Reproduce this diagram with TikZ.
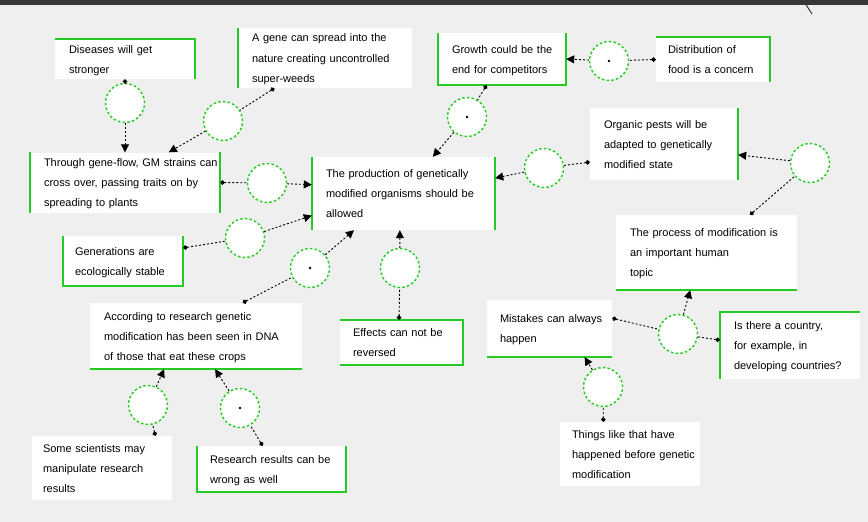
\documentclass[tikz,border=0pt]{standalone}
\usepackage{fontspec}
\setmainfont{Liberation Sans}
\usetikzlibrary{arrows.meta,calc}
\definecolor{gr}{RGB}{34,204,34}
\definecolor{bg}{RGB}{239,239,239}
\definecolor{topbar}{RGB}{55,55,55}
\tikzset{
 box/.style={fill=white, inner sep=0pt, align=left, font=\fontsize{11}{20}\selectfont},
 gside/.style={draw=gr, line width=2pt},
 circ/.style={circle, draw=gr, fill=white, line width=1.4pt, dash pattern=on 2.5pt off 2.2pt, minimum size=39pt, inner sep=0pt},
 conn/.style={black, line width=0.9pt, dash pattern=on 2pt off 2pt},
 src/.style={conn, {Circle[length=4.5pt]}-},
 tgt/.style={conn, -{Triangle[length=8pt,width=8pt]}},
 dotc/.style={fill=black}
}
\begin{document}
\begin{tikzpicture}[x=1pt,y=-1pt]
\fill[bg] (0,0) rectangle (868,522);
\useasboundingbox (0,0) rectangle (868,522);
\fill[topbar] (0,0) rectangle (868,5);
\draw[topbar, line width=1pt] (803,0) -- (812,14);

% boxes
\node[box, minimum width=140pt, minimum height=38pt, text width=112pt] (b1) at (125,59)
 {\begin{tabular}{@{}l@{}}Diseases will get\\stronger\end{tabular}};
\node[box, minimum width=174pt, minimum height=60pt, text width=146pt] (b2) at (325,58)
 {\begin{tabular}{@{}l@{}}A gene can spread into the\\nature creating uncontrolled\\super-weeds\end{tabular}};
\node[box, minimum width=128pt, minimum height=52pt, text width=100pt] (b3) at (502,59)
 {\begin{tabular}{@{}l@{}}Growth could be the\\end for competitors\end{tabular}};
\node[box, minimum width=114pt, minimum height=45pt, text width=90pt] (b4) at (713,59.5)
 {\begin{tabular}{@{}l@{}}Distribution of\\food is a concern\end{tabular}};
\node[box, minimum width=190pt, minimum height=59pt, text width=162pt] (b5) at (125,182.5)
 {\begin{tabular}{@{}l@{}}Through gene-flow, GM strains can\\cross over, passing traits on by\\spreading to plants\end{tabular}};
\node[box, minimum width=183pt, minimum height=73pt, text width=155pt] (b6) at (403.5,193.5)
 {\begin{tabular}{@{}l@{}}The production of genetically\\modified organisms should be\\allowed\end{tabular}};
\node[box, minimum width=148pt, minimum height=72pt, text width=120pt] (b7) at (664,144)
 {\begin{tabular}{@{}l@{}}Organic pests will be\\adapted to genetically\\modified state\end{tabular}};
\node[box, minimum width=181pt, minimum height=75pt, text width=153pt] (b8) at (706.5,252.5)
 {\begin{tabular}{@{}l@{}}The process of modification is\\an important human\\topic\end{tabular}};
\node[box, minimum width=120pt, minimum height=50pt, text width=96pt] (b9) at (123,261)
 {\begin{tabular}{@{}l@{}}Generations are\\ecologically stable\end{tabular}};
\node[box, minimum width=212pt, minimum height=66pt, text width=184pt] (b10) at (196,336)
 {\begin{tabular}{@{}l@{}}According to research genetic\\modification has been seen in DNA\\of those that eat these crops\end{tabular}};
\node[box, minimum width=123pt, minimum height=45pt, text width=97pt] (b11) at (401.5,342.5)
 {\begin{tabular}{@{}l@{}}Effects can not be\\reversed\end{tabular}};
\node[box, minimum width=125pt, minimum height=57pt, text width=99pt] (b12) at (549.5,328.5)
 {\begin{tabular}{@{}l@{}}Mistakes can always\\happen\end{tabular}};
\node[box, minimum width=140pt, minimum height=67pt, text width=112pt] (b13) at (790,345.5)
 {\begin{tabular}{@{}l@{}}Is there a country,\\for example, in\\developing countries?\end{tabular}};
\node[box, minimum width=140pt, minimum height=64pt, text width=118pt] (b14) at (102,468)
 {\begin{tabular}{@{}l@{}}Some scientists may\\manipulate research\\results\end{tabular}};
\node[box, minimum width=149pt, minimum height=46pt, text width=123pt] (b15) at (271.5,469)
 {\begin{tabular}{@{}l@{}}Research results can be\\wrong as well\end{tabular}};
\node[box, minimum width=140pt, minimum height=64pt, text width=116pt] (b16) at (630,454)
 {\begin{tabular}{@{}l@{}}Things like that have\\happened before genetic\\modification\end{tabular}};

% green sides
\draw[gside] (b1.north west) -- (b1.north east) -- (b1.south east);
\draw[gside] (b2.north west) -- (b2.south west);
\draw[gside] (b3.north west) -- (b3.south west) -- (b3.south east) -- (b3.north east);
\draw[gside] (b4.north west) -- (b4.north east) -- (b4.south east);
\draw[gside] (b5.north west) -- (b5.south west);
\draw[gside] (b5.north east) -- (b5.south east);
\draw[gside] (b6.north west) -- (b6.south west);
\draw[gside] (b6.north east) -- (b6.south east);
\draw[gside] (b7.north east) -- (b7.south east);
\draw[gside] (b8.south west) -- (b8.south east);
\draw[gside] (b9.north west) -- (b9.south west) -- (b9.south east) -- (b9.north east);
\draw[gside] (b10.south west) -- (b10.south east);
\draw[gside] (b11.north west) -- (b11.north east) -- (b11.south east) -- (b11.south west);
\draw[gside] (b12.south west) -- (b12.south east);
\draw[gside] (b13.south west) -- (b13.north west) -- (b13.north east);
\draw[gside] (b15.north west) -- (b15.south west) -- (b15.south east) -- (b15.north east);

% circles
\node[circ] (c1) at (125,103) {};
\node[circ] (c2) at (223,121) {};
\node[circ] (c3) at (467,117) {};
\node[circ] (c4) at (609,61) {};
\node[circ] (c5) at (267,183) {};
\node[circ] (c6) at (544,168) {};
\node[circ] (c7) at (810,163) {};
\node[circ] (c8) at (678,334) {};
\node[circ] (c9) at (603,387) {};
\node[circ] (c10) at (245,238) {};
\node[circ] (c11) at (310,268) {};
\node[circ] (c12) at (400,268) {};
\node[circ] (c13) at (148,405) {};
\node[circ] (c14) at (240,408) {};
\foreach \c in {c3,c4,c11,c14} \fill[dotc] (\c) circle (1.4pt);

% connectors
\draw[src] (b1.south) -- (c1);
\draw[tgt] (c1) -- (b5.north);
\draw[src] ($(b2.south west)!0.21!(b2.south east)$) -- (c2);
\draw[tgt] (c2) -- ($(b5.north west)!0.73!(b5.north east)$);
\draw[src] ($(b3.south west)!0.38!(b3.south east)$) -- (c3);
\draw[tgt] (c3) -- ($(b6.north west)!0.66!(b6.north east)$);
\draw[src] (b4.west) -- (c4);
\draw[tgt] (c4) -- (b3.east);
\draw[src] (b5.east) -- (c5);
\draw[tgt] (c5) -- ($(b6.north west)!0.38!(b6.south west)$);
\draw[src] ($(b7.north west)!0.75!(b7.south west)$) -- (c6);
\draw[tgt] (c6) -- ($(b6.north east)!0.29!(b6.south east)$);
\draw[src] ($(b8.north west)!0.74!(b8.north east)$) -- (c7);
\draw[tgt] (c7) -- ($(b7.north east)!0.65!(b7.south east)$);
\draw[src] ($(b13.north west)!0.42!(b13.south west)$) -- (c8);
\draw[src] ($(b12.north east)!0.32!(b12.south east)$) -- (c8);
\draw[tgt] (c8) -- ($(b8.south west)!0.41!(b8.south east)$);
\draw[src] ($(b16.north west)!0.31!(b16.north east)$) -- (c9);
\draw[tgt] (c9) -- ($(b12.south west)!0.78!(b12.south east)$);
\draw[src] ($(b9.north east)!0.24!(b9.south east)$) -- (c10);
\draw[tgt] (c10) -- ($(b6.north west)!0.8!(b6.south west)$);
\draw[src] ($(b10.north west)!0.72!(b10.north east)$) -- (c11);
\draw[tgt] (c11) -- ($(b6.south west)!0.23!(b6.south east)$);
\draw[src] ($(b11.north west)!0.48!(b11.north east)$) -- (c12);
\draw[tgt] (c12) -- ($(b6.south west)!0.48!(b6.south east)$);
\draw[src] ($(b14.north west)!0.88!(b14.north east)$) -- (c13);
\draw[tgt] (c13) -- ($(b10.south west)!0.35!(b10.south east)$);
\draw[src] ($(b15.north west)!0.44!(b15.north east)$) -- (c14);
\draw[tgt] (c14) -- ($(b10.south west)!0.59!(b10.south east)$);
\end{tikzpicture}
\end{document}
